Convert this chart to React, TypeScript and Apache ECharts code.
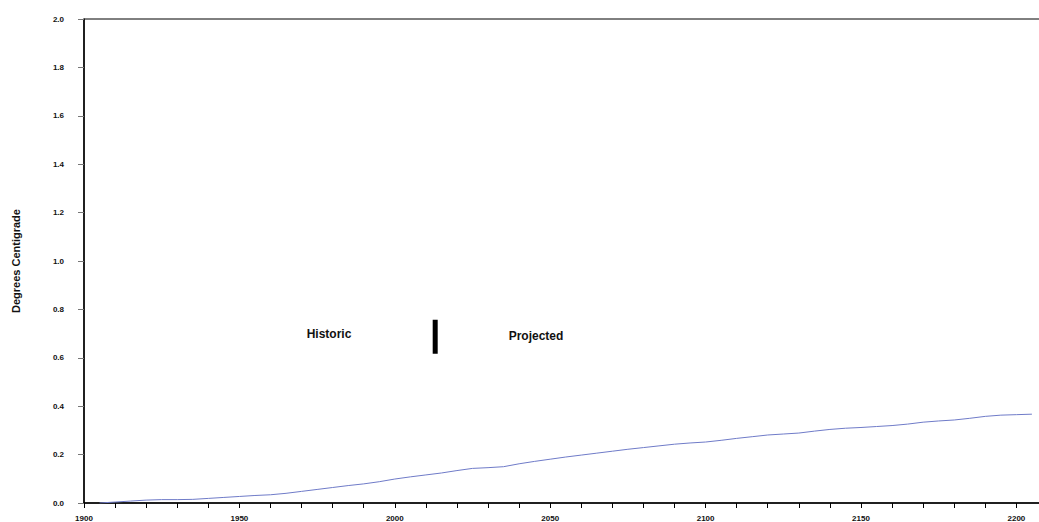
import React, { useEffect, useRef } from "react";
import * as echarts from "echarts";

const years = [
  1905, 1910, 1915, 1920, 1925, 1930, 1935, 1940, 1945, 1950, 1955, 1960, 1965, 1970, 1975, 1980, 1985, 1990, 1995,
  2000, 2005, 2010, 2015, 2020, 2025, 2030, 2035, 2040, 2045, 2050, 2055, 2060, 2065, 2070, 2075, 2080, 2085, 2090,
  2095, 2100, 2105, 2110, 2115, 2120, 2125, 2130, 2135, 2140, 2145, 2150, 2155, 2160, 2165, 2170, 2175, 2180, 2185,
  2190, 2195, 2200, 2205,
];
const temps = [
  0.0, 0.004, 0.008, 0.012, 0.014, 0.014, 0.015, 0.019, 0.023, 0.027, 0.031, 0.034, 0.04, 0.048, 0.056, 0.064, 0.072,
  0.079, 0.088, 0.099, 0.108, 0.116, 0.124, 0.134, 0.143, 0.146, 0.15, 0.162, 0.172, 0.181, 0.19, 0.198, 0.206, 0.214,
  0.222, 0.229, 0.236, 0.243, 0.248, 0.252, 0.259, 0.267, 0.274, 0.281, 0.285, 0.289, 0.297, 0.304, 0.309, 0.312,
  0.316, 0.32, 0.326, 0.334, 0.339, 0.343, 0.35, 0.358, 0.363, 0.365, 0.367,
];
const dividerYear = 2013;
const dividerRange = [0.617, 0.757];
const yAxisTitle = "Degrees Centigrade";
const leftLabel = "Historic";
const rightLabel = "Projected";

export default function App() {
  const ref = useRef<HTMLDivElement>(null);
  useEffect(() => {
    if (!ref.current) return;
    const chart = echarts.init(ref.current, undefined, { renderer: "svg" });
    const font = "Arial, 'Liberation Sans', sans-serif";
    chart.setOption({
      animation: false,
      backgroundColor: "#ffffff",
      textStyle: { fontFamily: font },
      grid: {
        left: 84,
        top: 19,
        bottom: 17,
        right: 37,
        show: true,
        borderColor: "#000",
        borderWidth: 1,
        backgroundColor: "transparent",
      },
      xAxis: {
        type: "value",
        min: 1900,
        max: 2215,
        interval: 10,
        axisLine: { show: true, onZero: false, lineStyle: { color: "#000", width: 1.5 } },
        axisTick: { show: true, length: 5, lineStyle: { color: "#000", width: 1 } },
        splitLine: { show: false },
        axisLabel: {
          margin: 11,
          color: "#111",
          fontSize: 8,
          fontWeight: "bold",
          fontFamily: font,
          hideOverlap: false,
          formatter: (v: number) => (v % 50 === 0 ? String(v) : ""),
        },
      },
      yAxis: {
        type: "value",
        min: 0,
        max: 2,
        interval: 0.2,
        name: yAxisTitle,
        nameLocation: "middle",
        nameGap: 63,
        nameTextStyle: { fontSize: 11, fontWeight: "bold", color: "#111", fontFamily: font },
        axisLine: { show: true, lineStyle: { color: "#000", width: 1.5 } },
        axisTick: { show: true, length: 6, lineStyle: { color: "#777", width: 1 } },
        splitLine: { show: false },
        axisLabel: {
          margin: 20,
          color: "#111",
          fontSize: 8,
          fontWeight: "bold",
          fontFamily: font,
          formatter: (v: number) => v.toFixed(1),
        },
      },
      series: [
        {
          type: "line",
          data: years.map((y, i) => [y, temps[i]]),
          showSymbol: false,
          symbol: "none",
          lineStyle: { color: "#6f7bc8", width: 1 },
          z: 3,
        },
        {
          type: "line",
          data: dividerRange.map((v) => [dividerYear, v]),
          showSymbol: false,
          symbol: "none",
          lineStyle: { color: "#000", width: 5, cap: "butt" },
        },
      ],
      graphic: [
        {
          type: "text",
          x: 329,
          y: 334,
          style: {
            text: leftLabel,
            fontSize: 12,
            fontWeight: "bold",
            fontFamily: font,
            fill: "#111",
            align: "center",
            verticalAlign: "middle",
          },
        },
        {
          type: "text",
          x: 536,
          y: 336,
          style: {
            text: rightLabel,
            fontSize: 12,
            fontWeight: "bold",
            fontFamily: font,
            fill: "#111",
            align: "center",
            verticalAlign: "middle",
          },
        },
      ],
    });
    return () => chart.dispose();
  }, []);
  return (
    <div style={{ position: "fixed", left: 0, top: 0, width: 1039, height: 522, overflow: "hidden", background: "#fff" }}>
      <div ref={ref} style={{ width: 1100, height: 522 }} />
    </div>
  );
}
